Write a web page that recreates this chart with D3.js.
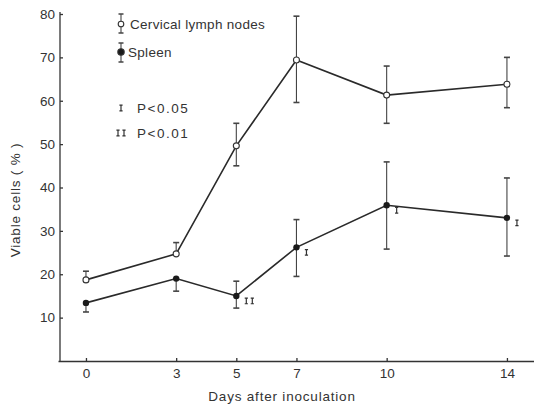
<!DOCTYPE html>
<html lang="en">
<head>
<meta charset="utf-8">
<title>Viable cells</title>
<script src="https://cdn.jsdelivr.net/npm/d3@7"></script>
<style>
  body { margin: 0; background: #fff; }
  text { font-family: "Liberation Sans", Arial, sans-serif; fill: #333; }
</style>
</head>
<body>
<script>
// data
var days = [0, 3, 5, 7, 10, 14];
var cervical      = [18.7, 24.7, 49.6, 69.4, 61.3, 63.8];
var cervicalUpper = [20.7, 27.3, 54.8, 79.5, 68.0, 70.0];
var cervicalLower = [null, null, 45.0, 59.6, 54.8, 58.4];
var spleen        = [13.4, 19.0, 15.0, 26.2, 35.9, 33.0];
var spleenUpper   = [null, null, 18.4, 32.6, 45.9, 42.2];
var spleenLower   = [11.3, 16.1, 12.2, 19.5, 25.8, 24.2];
var signif = [0, 0, 2, 1, 1, 1];   // number of significance marks
var yTicks = [10, 20, 30, 40, 50, 60, 70, 80];

var w = 534, h = 406;
var ink = "#333";

var svg = d3.select("body").append("svg")
    .attr("width", w).attr("height", h);

var x = d3.scaleLinear().domain([-0.93, 14.9]).range([58, 534]);
var y = d3.scaleLinear().domain([0, 80]).range([361, 14]);

// axes
var xAxis = d3.axisBottom(x).tickValues(days).tickSize(-3).tickSizeOuter(0).tickPadding(7);
var gx = svg.append("g").attr("transform", "translate(0," + y(0) + ")").call(xAxis);
var yAxis = d3.axisLeft(y).tickValues(yTicks).tickSize(-3).tickSizeOuter(0).tickPadding(5);
var gy = svg.append("g").attr("transform", "translate(60,0)").call(yAxis);

[gx, gy].forEach(function(g) {
    g.selectAll("path, line").attr("stroke", ink).attr("stroke-width", 1.3);
    g.selectAll("text").attr("font-size", "13.5px").attr("fill", "#444")
        .attr("font-family", "'Liberation Sans', Arial, sans-serif");
});
gy.select(".domain").attr("d", "M0," + y(0) + "V" + (y(80) - 2));

svg.append("text")
    .attr("x", 282).attr("y", 401)
    .attr("text-anchor", "middle")
    .attr("font-size", "13.5px")
    .attr("letter-spacing", "0.8px")
    .attr("fill", "#444")
    .text("Days after inoculation");

svg.append("text")
    .attr("transform", "translate(20,200) rotate(-90)")
    .attr("text-anchor", "middle")
    .attr("font-size", "13.5px")
    .attr("letter-spacing", "0.8px")
    .attr("fill", "#444")
    .text("Viable cells ( % )");

// series
function rows(vals, up, lo) {
    return days.map(function(d, i) {
        return { day: d, v: vals[i], up: up[i], lo: lo[i], sig: signif[i] };
    });
}
var cer = rows(cervical, cervicalUpper, cervicalLower);
var spl = rows(spleen, spleenUpper, spleenLower);

var line = d3.line()
    .x(function(d) { return x(d.day); })
    .y(function(d) { return y(d.v); });

[cer, spl].forEach(function(s) {
    svg.append("path").datum(s)
        .attr("d", line)
        .attr("fill", "none")
        .attr("stroke", "#2a2a2a")
        .attr("stroke-width", 1.6);
});

function errorBars(s) {
    var g = svg.append("g").attr("stroke", "#444").attr("stroke-width", 1.1);
    s.forEach(function(d) {
        var cx = x(d.day);
        var top = d.up != null ? d.up : d.v;
        var bot = d.lo != null ? d.lo : d.v;
        g.append("line").attr("x1", cx).attr("x2", cx).attr("y1", y(top)).attr("y2", y(bot));
        if (d.up != null) g.append("line").attr("x1", cx - 3).attr("x2", cx + 3).attr("y1", y(d.up)).attr("y2", y(d.up)).attr("stroke-width", 1.6);
        if (d.lo != null) g.append("line").attr("x1", cx - 3).attr("x2", cx + 3).attr("y1", y(d.lo)).attr("y2", y(d.lo)).attr("stroke-width", 1.6);
    });
}
errorBars(cer);
errorBars(spl);

svg.selectAll(".cer").data(cer).enter().append("circle")
    .attr("cx", function(d) { return x(d.day); })
    .attr("cy", function(d) { return y(d.v); })
    .attr("r", 3)
    .attr("fill", "#fff").attr("stroke", "#333").attr("stroke-width", 1.1);

svg.selectAll(".spl").data(spl).enter().append("circle")
    .attr("cx", function(d) { return x(d.day); })
    .attr("cy", function(d) { return y(d.v); })
    .attr("r", 3.2)
    .attr("fill", "#1a1a1a");

// small I-beam significance marks
function mark(g, cx, cy, n) {
    for (var k = 0; k < n; k++) {
        var mx = cx + k * 6;
        g.append("path")
            .attr("d", "M" + (mx - 1.6) + "," + (cy - 2.8) + "H" + (mx + 1.6) +
                       "M" + mx + "," + (cy - 2.8) + "V" + (cy + 2.8) +
                       "M" + (mx - 1.6) + "," + (cy + 2.8) + "H" + (mx + 1.6))
            .attr("fill", "none")
            .attr("stroke", "#333")
            .attr("stroke-width", 1.2);
    }
}
var sg = svg.append("g");
spl.forEach(function(d) {
    if (d.sig) mark(sg, x(d.day) + 10, y(d.v) + 5, d.sig);
});

// legend
var lg = svg.append("g");
function legSymbol(cy, top, bot, filled) {
    lg.append("line").attr("x1", 121).attr("x2", 121).attr("y1", top).attr("y2", bot).attr("stroke", "#444").attr("stroke-width", 1.1);
    [top, bot].forEach(function(yy) {
        lg.append("line").attr("x1", 118.5).attr("x2", 123.5).attr("y1", yy).attr("y2", yy).attr("stroke", "#444").attr("stroke-width", 1.5);
    });
    lg.append("circle").attr("cx", 121).attr("cy", cy).attr("r", filled ? 3.2 : 2.8)
        .attr("fill", filled ? "#1a1a1a" : "#fff").attr("stroke", "#333").attr("stroke-width", 1.1);
}
legSymbol(24, 14, 33, false);
legSymbol(52, 43, 62, true);
lg.append("text").attr("x", 130).attr("y", 29).attr("font-size", "13.5px").attr("letter-spacing", "0.3px").attr("fill", "#444").text("Cervical lymph nodes");
lg.append("text").attr("x", 128).attr("y", 57).attr("font-size", "13.5px").attr("letter-spacing", "0.3px").attr("fill", "#444").text("Spleen");

mark(lg, 121, 108, 1);
mark(lg, 118, 133, 2);
lg.append("text").attr("x", 137).attr("y", 113).attr("font-size", "13.5px").attr("letter-spacing", "1.5px").attr("fill", "#444").text("P<0.05");
lg.append("text").attr("x", 137).attr("y", 138).attr("font-size", "13.5px").attr("letter-spacing", "1.5px").attr("fill", "#444").text("P<0.01");
</script>
</body>
</html>
